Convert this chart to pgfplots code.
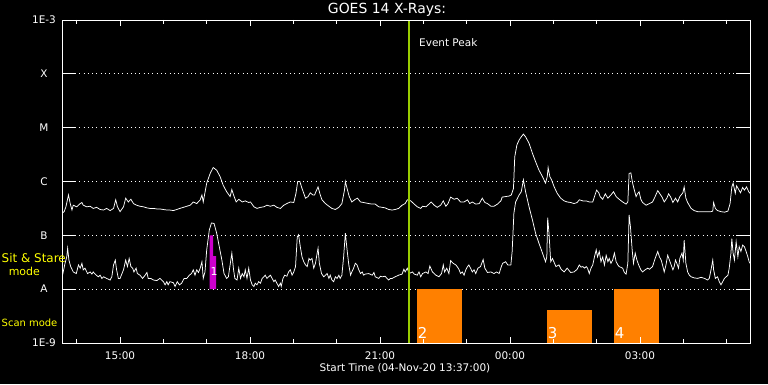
\documentclass[border=0pt]{standalone}
\usepackage{pgfplots}
\pgfplotsset{compat=1.18}
\usepackage{fontspec}
\setmainfont{DejaVu Sans}
\definecolor{goesorange}{RGB}{255,128,0}
\definecolor{goesmag}{RGB}{204,0,204}
\definecolor{peakgreen}{RGB}{153,204,0}
\definecolor{goesyellow}{RGB}{255,255,0}
\begin{document}
\begin{tikzpicture}[x=1bp,y=1bp]
\fill[black] (0,0) rectangle (768,384);
\path[use as bounding box] (0,0) rectangle (768,384);
\begin{axis}[
  at={(62bp,41bp)}, anchor=south west,
  scale only axis, width=688bp, height=323bp,
  xmin=13.66, xmax=29.54, ymin=-9, ymax=-3,
  axis line style={white, line width=0.8bp},
  xtick=\empty,
  ytick={-9,-8,-7,-6,-5,-4,-3},
  yticklabels={1E-9,A,B,C,M,X,1E-3},
  ytick pos=both,
  major tick length=14bp,
  tick style={white, line width=0.8bp},
  ymajorgrids,
  major grid style={white, line width=0.9bp, dash pattern=on 0.9bp off 3.4bp},
  yticklabel style={font=\fontsize{10.5}{12}\selectfont, text=white, anchor=center, xshift=-18bp},
]
% sit & stare (magenta) and scan (orange) intervals
\addplot[fill=goesmag, draw=none] coordinates {(17.066,-8) (17.066,-7) (17.146,-7) (17.146,-7.384) (17.215,-7.384) (17.215,-8)} -- cycle;
\addplot[fill=goesorange, draw=none] coordinates {(21.845,-9) (21.845,-8) (22.893,-8) (22.893,-9)} -- cycle;
\addplot[fill=goesorange, draw=none] coordinates {(24.854,-9) (24.854,-8.387) (25.893,-8.387) (25.893,-9)} -- cycle;
\addplot[fill=goesorange, draw=none] coordinates {(26.401,-9) (26.401,-8) (27.439,-8) (27.439,-9)} -- cycle;
% long channel (1-8 A)
\addplot[white, line width=0.75bp, no marks] coordinates {
(13.66,-6.59) (13.71,-6.56) (13.75,-6.47) (13.81,-6.25) (13.85,-6.41) (13.89,-6.53) (13.92,-6.44) (14.00,-6.47) (14.08,-6.41) (14.12,-6.39) (14.15,-6.44) (14.23,-6.47) (14.31,-6.46) (14.38,-6.50) (14.46,-6.48) (14.54,-6.52) (14.62,-6.53) (14.69,-6.50) (14.77,-6.54) (14.85,-6.50) (14.90,-6.34) (14.94,-6.47) (15.00,-6.56) (15.08,-6.47) (15.13,-6.31) (15.19,-6.38) (15.25,-6.33) (15.31,-6.41) (15.38,-6.44) (15.46,-6.46) (15.54,-6.47) (15.62,-6.49) (15.69,-6.50) (15.77,-6.50) (15.85,-6.51) (15.92,-6.51) (16.00,-6.52) (16.08,-6.53) (16.15,-6.53) (16.23,-6.54) (16.31,-6.52) (16.38,-6.50) (16.46,-6.48) (16.54,-6.46) (16.62,-6.44) (16.69,-6.38) (16.77,-6.41) (16.85,-6.34) (16.89,-6.25) (16.92,-6.38) (17.00,-6.03) (17.08,-5.85) (17.15,-5.74) (17.23,-5.79) (17.31,-5.91) (17.38,-6.07) (17.46,-6.19) (17.54,-6.28) (17.58,-6.15) (17.62,-6.25) (17.68,-6.38) (17.74,-6.33) (17.82,-6.38) (17.89,-6.36) (17.97,-6.39) (18.01,-6.38) (18.09,-6.47) (18.16,-6.50) (18.24,-6.48) (18.32,-6.47) (18.39,-6.44) (18.47,-6.46) (18.55,-6.44) (18.62,-6.48) (18.70,-6.50) (18.78,-6.44) (18.85,-6.41) (18.93,-6.38) (19.01,-6.39) (19.06,-6.22) (19.10,-6.00) (19.15,-6.00) (19.20,-6.13) (19.28,-6.31) (19.34,-6.28) (19.39,-6.21) (19.45,-6.25) (19.49,-6.25) (19.52,-6.19) (19.57,-6.10) (19.61,-6.22) (19.66,-6.34) (19.74,-6.41) (19.82,-6.46) (19.89,-6.50) (19.97,-6.52) (20.05,-6.48) (20.12,-6.41) (20.18,-6.16) (20.20,-6.00) (20.24,-6.13) (20.29,-6.28) (20.35,-6.38) (20.43,-6.33) (20.48,-6.31) (20.55,-6.38) (20.62,-6.39) (20.74,-6.41) (20.82,-6.42) (20.89,-6.42) (20.97,-6.47) (21.05,-6.48) (21.12,-6.49) (21.20,-6.52) (21.28,-6.53) (21.35,-6.52) (21.43,-6.50) (21.51,-6.44) (21.58,-6.41) (21.63,-6.34) (21.71,-6.36) (21.79,-6.42) (21.86,-6.47) (21.94,-6.50) (21.98,-6.46) (22.06,-6.47) (22.13,-6.42) (22.18,-6.38) (22.25,-6.44) (22.32,-6.48) (22.40,-6.44) (22.46,-6.36) (22.52,-6.46) (22.57,-6.41) (22.63,-6.29) (22.71,-6.33) (22.78,-6.31) (22.86,-6.38) (22.94,-6.38) (23.02,-6.34) (23.07,-6.41) (23.13,-6.38) (23.21,-6.42) (23.29,-6.41) (23.36,-6.31) (23.42,-6.39) (23.48,-6.41) (23.56,-6.46) (23.63,-6.46) (23.71,-6.42) (23.79,-6.36) (23.82,-6.29) (23.90,-6.28) (23.98,-6.27) (24.03,-6.25) (24.08,-6.13) (24.11,-5.54) (24.16,-5.32) (24.21,-5.23) (24.26,-5.17) (24.31,-5.12) (24.36,-5.17) (24.44,-5.29) (24.52,-5.48) (24.59,-5.63) (24.67,-5.79) (24.75,-5.91) (24.82,-6.03) (24.86,-5.91) (24.88,-5.74) (24.92,-5.91) (24.96,-5.97) (25.02,-6.10) (25.09,-6.22) (25.17,-6.31) (25.25,-6.36) (25.32,-6.38) (25.40,-6.39) (25.48,-6.41) (25.55,-6.39) (25.60,-6.34) (25.68,-6.36) (25.76,-6.36) (25.83,-6.38) (25.91,-6.38) (25.95,-6.28) (26.00,-6.16) (26.05,-6.21) (26.08,-6.28) (26.14,-6.33) (26.20,-6.23) (26.26,-6.31) (26.33,-6.25) (26.39,-6.19) (26.45,-6.28) (26.52,-6.33) (26.60,-6.38) (26.68,-6.42) (26.72,-6.38) (26.75,-5.85) (26.79,-5.84) (26.83,-6.03) (26.87,-6.16) (26.91,-6.28) (26.95,-6.22) (26.98,-6.19) (27.02,-6.33) (27.06,-6.39) (27.14,-6.44) (27.22,-6.41) (27.29,-6.38) (27.35,-6.28) (27.41,-6.17) (27.46,-6.23) (27.51,-6.29) (27.56,-6.38) (27.62,-6.31) (27.66,-6.23) (27.71,-6.29) (27.76,-6.39) (27.82,-6.31) (27.87,-6.38) (27.92,-6.28) (27.99,-6.21) (28.02,-6.10) (28.06,-6.31) (28.10,-6.39) (28.18,-6.50) (28.25,-6.54) (28.33,-6.56) (28.41,-6.56) (28.49,-6.56) (28.56,-6.56) (28.64,-6.56) (28.68,-6.55) (28.70,-6.39) (28.74,-6.50) (28.79,-6.54) (28.87,-6.56) (28.95,-6.57) (29.03,-6.55) (29.08,-6.41) (29.12,-6.10) (29.15,-6.03) (29.20,-6.22) (29.23,-6.08) (29.28,-6.15) (29.32,-6.21) (29.37,-6.11) (29.41,-6.16) (29.46,-6.10) (29.51,-6.19) (29.54,-6.22)
};
% short channel (0.5-4 A)
\addplot[white, line width=0.75bp, no marks] coordinates {
(13.66,-7.77) (13.68,-7.71) (13.73,-7.52) (13.77,-7.40) (13.79,-7.24) (13.82,-7.46) (13.86,-7.58) (13.92,-7.68) (13.99,-7.71) (14.04,-7.55) (14.08,-7.61) (14.12,-7.52) (14.15,-7.64) (14.19,-7.61) (14.25,-7.71) (14.31,-7.68) (14.35,-7.72) (14.38,-7.68) (14.45,-7.74) (14.50,-7.77) (14.54,-7.74) (14.58,-7.80) (14.62,-7.77) (14.69,-7.80) (14.77,-7.83) (14.81,-7.77) (14.85,-7.55) (14.89,-7.46) (14.92,-7.64) (14.96,-7.80) (15.00,-7.80) (15.08,-7.64) (15.13,-7.46) (15.17,-7.58) (15.21,-7.43) (15.25,-7.58) (15.29,-7.61) (15.32,-7.68) (15.37,-7.61) (15.40,-7.71) (15.46,-7.74) (15.52,-7.80) (15.58,-7.74) (15.62,-7.69) (15.65,-7.80) (15.71,-7.80) (15.77,-7.83) (15.85,-7.84) (15.92,-7.80) (16.00,-7.86) (16.04,-7.92) (16.08,-7.86) (16.11,-7.92) (16.15,-7.86) (16.23,-7.88) (16.27,-7.95) (16.32,-7.86) (16.37,-7.92) (16.42,-7.89) (16.48,-7.80) (16.54,-7.80) (16.60,-7.74) (16.65,-7.71) (16.69,-7.64) (16.73,-7.74) (16.77,-7.64) (16.81,-7.69) (16.85,-7.61) (16.89,-7.49) (16.92,-7.80) (16.96,-7.68) (17.00,-7.27) (17.06,-6.90) (17.11,-6.77) (17.17,-6.78) (17.23,-6.96) (17.29,-7.21) (17.35,-7.46) (17.40,-7.71) (17.46,-7.80) (17.50,-7.77) (17.54,-7.55) (17.58,-7.33) (17.62,-7.64) (17.65,-7.80) (17.70,-7.83) (17.74,-7.61) (17.78,-7.80) (17.82,-7.71) (17.86,-7.77) (17.89,-7.64) (17.93,-7.80) (17.97,-7.61) (18.01,-7.83) (18.05,-7.92) (18.09,-7.95) (18.12,-7.89) (18.16,-7.92) (18.20,-7.86) (18.24,-7.89) (18.28,-7.80) (18.32,-7.77) (18.35,-7.74) (18.39,-7.80) (18.43,-7.77) (18.47,-7.74) (18.51,-7.80) (18.55,-7.86) (18.58,-7.83) (18.62,-7.89) (18.66,-7.95) (18.70,-7.89) (18.72,-7.95) (18.76,-7.80) (18.80,-7.74) (18.85,-7.76) (18.89,-7.68) (18.93,-7.64) (18.97,-7.74) (19.01,-7.68) (19.05,-7.58) (19.09,-7.03) (19.12,-6.99) (19.16,-7.21) (19.20,-7.40) (19.24,-7.49) (19.28,-7.55) (19.32,-7.58) (19.36,-7.43) (19.39,-7.46) (19.43,-7.43) (19.47,-7.61) (19.51,-7.52) (19.55,-7.33) (19.57,-7.24) (19.60,-7.52) (19.65,-7.71) (19.70,-7.77) (19.74,-7.74) (19.78,-7.71) (19.82,-7.80) (19.85,-7.74) (19.89,-7.83) (19.93,-7.86) (19.97,-7.77) (20.01,-7.80) (20.05,-7.74) (20.08,-7.80) (20.12,-7.74) (20.16,-7.40) (20.20,-6.96) (20.24,-7.27) (20.28,-7.55) (20.32,-7.74) (20.35,-7.68) (20.39,-7.61) (20.43,-7.52) (20.47,-7.55) (20.51,-7.64) (20.55,-7.71) (20.59,-7.68) (20.62,-7.74) (20.66,-7.72) (20.74,-7.71) (20.82,-7.74) (20.86,-7.69) (20.89,-7.77) (20.97,-7.80) (21.01,-7.76) (21.05,-7.77) (21.12,-7.76) (21.16,-7.80) (21.20,-7.83) (21.24,-7.80) (21.28,-7.80) (21.35,-7.77) (21.43,-7.74) (21.51,-7.72) (21.55,-7.63) (21.58,-7.68) (21.63,-7.61) (21.67,-7.71) (21.75,-7.68) (21.79,-7.72) (21.86,-7.74) (21.90,-7.68) (21.94,-7.77) (21.98,-7.71) (22.06,-7.68) (22.11,-7.71) (22.15,-7.57) (22.21,-7.68) (22.29,-7.74) (22.36,-7.77) (22.42,-7.71) (22.46,-7.55) (22.49,-7.68) (22.54,-7.61) (22.59,-7.71) (22.63,-7.47) (22.69,-7.52) (22.75,-7.55) (22.78,-7.58) (22.82,-7.63) (22.86,-7.71) (22.90,-7.68) (22.94,-7.74) (22.98,-7.64) (23.02,-7.58) (23.05,-7.55) (23.09,-7.61) (23.13,-7.68) (23.17,-7.64) (23.21,-7.71) (23.26,-7.61) (23.32,-7.58) (23.38,-7.45) (23.42,-7.61) (23.48,-7.69) (23.56,-7.68) (23.63,-7.71) (23.69,-7.68) (23.75,-7.71) (23.80,-7.58) (23.83,-7.52) (23.90,-7.49) (23.95,-7.55) (24.02,-7.55) (24.05,-7.30) (24.09,-6.59) (24.13,-6.38) (24.21,-6.25) (24.26,-6.19) (24.31,-5.97) (24.36,-6.19) (24.44,-6.47) (24.52,-6.72) (24.59,-6.96) (24.67,-7.15) (24.75,-7.33) (24.82,-7.49) (24.85,-7.40) (24.87,-6.67) (24.90,-6.96) (24.94,-7.49) (24.98,-7.43) (25.06,-7.58) (25.13,-7.55) (25.18,-7.63) (25.25,-7.68) (25.32,-7.61) (25.40,-7.69) (25.48,-7.68) (25.55,-7.63) (25.60,-7.55) (25.64,-7.59) (25.68,-7.58) (25.72,-7.61) (25.76,-7.58) (25.79,-7.61) (25.83,-7.71) (25.87,-7.61) (25.91,-7.55) (25.95,-7.40) (25.99,-7.27) (26.02,-7.40) (26.06,-7.30) (26.10,-7.49) (26.14,-7.40) (26.18,-7.55) (26.22,-7.37) (26.26,-7.49) (26.29,-7.43) (26.33,-7.52) (26.37,-7.46) (26.41,-7.33) (26.45,-7.49) (26.49,-7.55) (26.52,-7.58) (26.60,-7.61) (26.64,-7.69) (26.68,-7.72) (26.72,-7.52) (26.75,-6.62) (26.78,-6.84) (26.82,-7.27) (26.85,-7.52) (26.89,-7.33) (26.93,-7.46) (26.97,-7.55) (27.02,-7.64) (27.06,-7.68) (27.12,-7.64) (27.18,-7.61) (27.22,-7.63) (27.29,-7.58) (27.35,-7.43) (27.41,-7.30) (27.45,-7.40) (27.49,-7.46) (27.53,-7.58) (27.56,-7.68) (27.60,-7.55) (27.64,-7.37) (27.68,-7.46) (27.72,-7.55) (27.76,-7.64) (27.79,-7.58) (27.82,-7.46) (27.85,-7.52) (27.89,-7.61) (27.92,-7.43) (27.97,-7.33) (28.00,-7.46) (28.02,-7.09) (28.06,-7.52) (28.10,-7.68) (28.14,-7.74) (28.18,-7.77) (28.25,-7.79) (28.33,-7.80) (28.41,-7.78) (28.49,-7.80) (28.56,-7.83) (28.60,-7.80) (28.64,-7.64) (28.68,-7.46) (28.70,-7.64) (28.74,-7.80) (28.79,-7.77) (28.83,-7.86) (28.87,-7.92) (28.91,-7.86) (28.95,-7.80) (28.99,-7.77) (29.03,-7.74) (29.06,-7.61) (29.10,-7.33) (29.12,-7.06) (29.15,-7.33) (29.18,-7.46) (29.22,-7.12) (29.26,-7.40) (29.29,-7.21) (29.33,-7.30) (29.37,-7.18) (29.41,-7.21) (29.45,-7.30) (29.49,-7.40) (29.52,-7.49) (29.54,-7.52)
};
% event peak
\addplot[peakgreen, line width=2.3bp, no marks] coordinates {(21.674,-9) (21.674,-3)};
\end{axis}
\begin{axis}[
  at={(62bp,41bp)}, anchor=south west,
  scale only axis, width=688bp, height=323bp,
  xmin=13.66, xmax=29.54, ymin=-9, ymax=-3,
  axis line style={white, line width=0.8bp},
  ytick=\empty,
  xtick={15,18,21,24,27},
  xticklabels={15:00,18:00,21:00,00:00,03:00},
  minor xtick={14,16,17,19,20,22,23,25,26,28,29},
  xtick pos=both,
  major tick length=6bp, minor tick length=4bp,
  tick style={white, line width=0.8bp},
  xticklabel style={font=\fontsize{10.5}{12}\selectfont, text=white, anchor=center, yshift=-12.5bp},
]
\end{axis}
\node[text=white, font=\fontsize{14}{16}\selectfont] at (387,374.5) {GOES 14 X-Rays:};
\node[text=white, font=\fontsize{10.5}{12}\selectfont, anchor=west, inner sep=0pt] at (419,341) {Event Peak};
\node[text=white, font=\fontsize{10.5}{12}\selectfont] at (405,16) {Start Time (04-Nov-20 13:37:00)};
\node[text=goesyellow, font=\fontsize{12}{13}\selectfont, anchor=west, inner sep=0pt] at (1.5,125.6) {Sit \& Stare};
\node[text=goesyellow, font=\fontsize{11}{12}\selectfont, inner sep=0pt] at (24.3,112.5) {mode};
\node[text=goesyellow, font=\fontsize{10}{12}\selectfont, anchor=west, inner sep=0pt] at (1.5,61.5) {Scan mode};
\node[text=white, font=\fontsize{15}{15}\selectfont, inner sep=0pt] at (422.5,51) {2};
\node[text=white, font=\fontsize{15}{15}\selectfont, inner sep=0pt] at (552.5,51) {3};
\node[text=white, font=\fontsize{15}{15}\selectfont, inner sep=0pt] at (619.5,51) {4};
\node[text=white, font=\fontsize{11}{12}\selectfont, inner sep=0pt] at (214,112) {1};
\end{tikzpicture}
\end{document}
